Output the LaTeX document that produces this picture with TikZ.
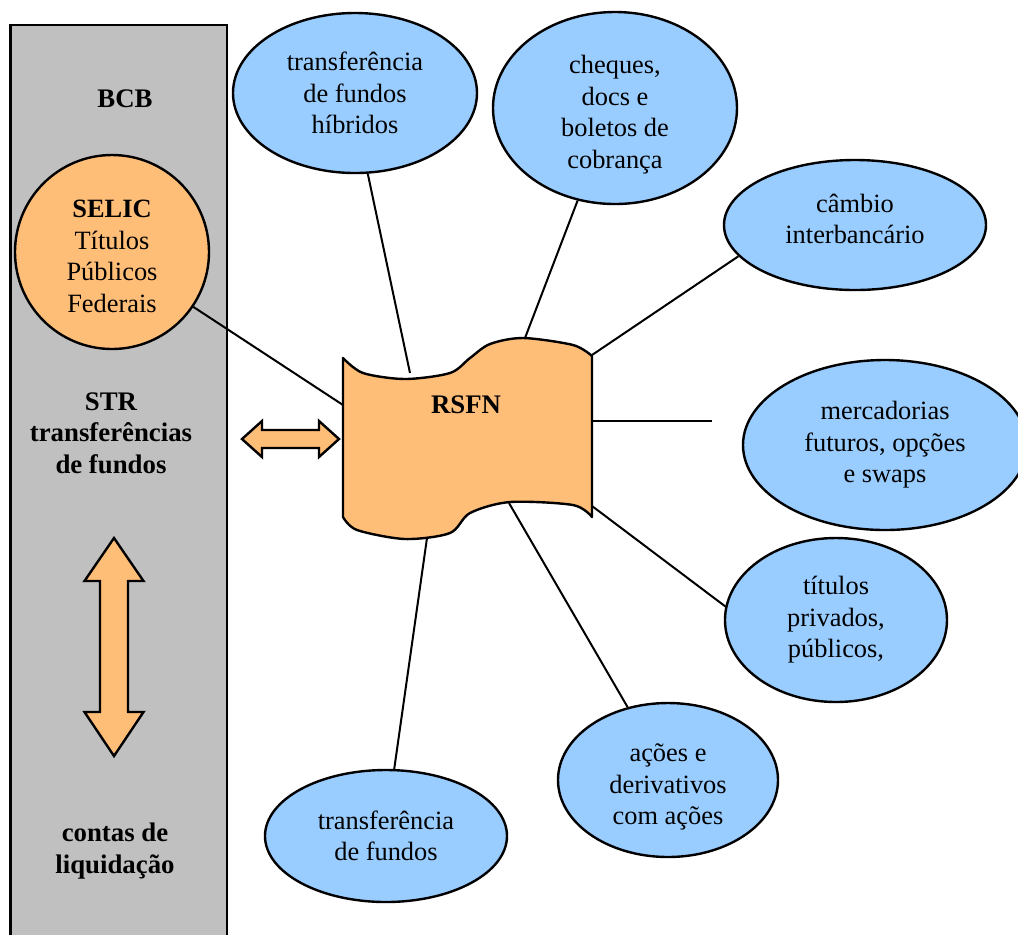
\documentclass[tikz,border=0pt]{standalone}
\usepackage{fontspec}
\setmainfont{Liberation Serif}
\usetikzlibrary{shapes.geometric}
\definecolor{panelgray}{RGB}{192,192,192}
\definecolor{rsfnorange}{RGB}{255,190,120}
\definecolor{bubbleblue}{RGB}{153,204,255}
\newcommand{\lowerby}[1]{\rule{0pt}{#1}}
\newcommand{\raiseby}[1]{\rule[-#1]{0pt}{#1}}
\begin{document}
\begin{tikzpicture}[x=0.5pt,y=-0.5pt,
  txt/.style={font=\fontsize{13.2}{15.75}\selectfont, align=center, inner sep=0pt},
  boldtxt/.style={txt, font=\fontsize{13.4}{15.75}\selectfont\bfseries},
  bubble/.style={ellipse, draw, line width=1.2pt, fill=bubbleblue, txt},
  link/.style={draw, line width=1pt},
  fatarrow/.style={draw, line width=1.2pt, fill=rsfnorange, line join=miter}]

\useasboundingbox (0,0) rectangle (1018,934);
\clip (0,0) rectangle (1018,934);
\fill[white] (0,0) rectangle (1018,934);

% left panel
\draw[line width=1.2pt, fill=panelgray] (10.5,25) rectangle (226.8,960);
\node[boldtxt] (bcb) at (125,99) {BCB};
\node[boldtxt] (str) at (111,433) {STR\\transferências\\de fundos};
\node[boldtxt] (contas) at (115,851) {contas de\\liquidação};
\node[circle, draw, line width=1.2pt, fill=rsfnorange, minimum size=97pt, txt] (selic) at (112,252)
  {\lowerby{13pt}\textbf{SELIC}\\Títulos\\Públicos\\Federais};

% vertical double arrow
\draw[fatarrow] (114,538) -- (143.5,581) -- (128,581) -- (128,712) -- (143.5,712) -- (114,756)
  -- (84.5,712) -- (100,712) -- (100,581) -- (84.5,581) -- cycle;

% horizontal double arrow
\draw[fatarrow] (242,439) -- (262,421) -- (262,430) -- (319,430) -- (319,421) -- (339,439)
  -- (319,457) -- (319,448) -- (262,448) -- (262,457) -- cycle;

% RSFN wavy shape
\draw[line width=1.2pt, fill=rsfnorange, line join=round]
  plot[smooth, tension=0.5] coordinates {(343,358) (363,373) (405,379) (450,373) (470,358) (490,344) (523,338) (573,345) (592,356)}
  -- plot[smooth, tension=0.5] coordinates {(592,517) (573,505) (510,502) (470,513) (450,533) (405,539) (357,530) (343,517)}
  -- cycle;
\node[boldtxt] (rsfn) at (466,405) {RSFN};

\coordinate (r0) at (343,405);
\coordinate (r1) at (410,373);
\coordinate (r2) at (525,338);
\coordinate (r3) at (592,355);
\coordinate (r4) at (592,421);
\coordinate (free) at (712,421);
\coordinate (r5) at (592,506);
\coordinate (r6) at (509,503);
\coordinate (r7) at (427,538);

% bubbles
\node[bubble, minimum width=122pt, minimum height=80pt] (e1) at (355,93) {transferência\\de fundos\\híbridos};
\node[bubble, minimum width=122pt, minimum height=96pt] (e2) at (615,108) {\lowerby{16pt}cheques,\\docs e\\boletos de\\cobrança};
\node[bubble, minimum width=131pt, minimum height=65pt] (e3) at (855,225) {câmbio\\interbancário\raiseby{6pt}};
\node[bubble, minimum width=142pt, minimum height=85pt] (e4) at (885,445) {mercadorias\\futuros, opções\\e swaps};
\node[bubble, minimum width=111pt, minimum height=82pt] (e5) at (836,620) {títulos\\privados,\\públicos,};
\node[bubble, minimum width=110pt, minimum height=77pt] (e6) at (668,780) {\lowerby{16pt}ações e\\derivativos\\com ações};
\node[bubble, minimum width=121pt, minimum height=66pt] (e7) at (386,836) {transferência\\de fundos};

% connectors
\draw[link] (selic.326) -- (r0);
\draw[link] (e1.279) -- (r1);
\draw[link] (e2.248) -- (r2);
\draw[link] (e3.195) -- (r3);
\draw[link] (r4) -- (free);
\draw[link] (e5.173) -- (r5);
\draw[link] (e6.119) -- (r6);
\draw[link] (e7.83) -- (r7);
\end{tikzpicture}
\end{document}
